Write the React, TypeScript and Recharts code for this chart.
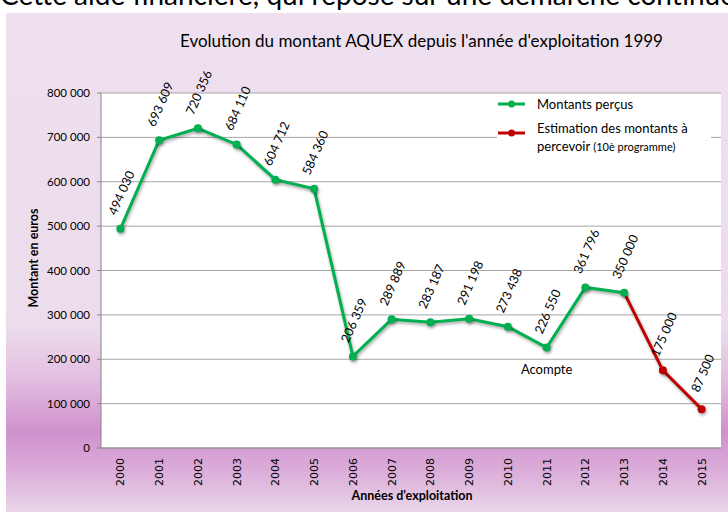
import React from "react";
import { LineChart, Line, XAxis, YAxis, CartesianGrid, Legend, ReferenceDot } from "recharts";

const years = ["2000", "2001", "2002", "2003", "2004", "2005", "2006", "2007", "2008", "2009", "2010", "2011", "2012", "2013", "2014", "2015"];
const received = [494030, 693609, 720356, 684110, 604712, 584360, 206359, 289889, 283187, 291198, 273438, 226550, 361796, 350000, null, null];
const estimated = [null, null, null, null, null, null, null, null, null, null, null, null, null, 350000, 175000, 87500];
const yTicks = [0, 100000, 200000, 300000, 400000, 500000, 600000, 700000, 800000];
const bandEdges = [0, 1, 2, 3, 4, 5, 6, 7, 8, 9, 10, 11, 12, 13, 14, 15, 16];

const GREEN = "#00b050";
const RED = "#c00000";
const AXIS = "#868686";
const FONT = "Lato, 'Open Sans', sans-serif";

const data = years.map((year, i) => ({ year, idx: i + 0.5, received: received[i], estimated: estimated[i] }));

const fmt = (v: number) => String(v).replace(/\B(?=(\d{3})+(?!\d))/g, " ");

// rotated value labels, skip the estimate label where the received series already has one
const makeLabel = (skip: (i: number) => boolean) => (p: any) => {
  const { x, y, value, index } = p;
  if (value == null || skip(index)) return null;
  const cx = x + 1;
  const cy = y - 36;
  return (
    <text
      key={index}
      x={cx}
      y={cy}
      transform={`rotate(-66 ${cx} ${cy})`}
      textAnchor="middle"
      dominantBaseline="central"
      fontSize={12.5}
      fontFamily={FONT}
      fill="#000"
    >
      {fmt(value)}
    </text>
  );
};

const YearTick = ({ x, y, payload }: any) => (
  <g transform={`translate(${x},${y + 2}) rotate(-90)`}>
    <text textAnchor="end" dy={4} fontSize={11} fontFamily="'DejaVu Sans', sans-serif" fill="#000">
      {payload.value}
    </text>
  </g>
);

const LegendBox = () => (
  <div style={{ position: "relative", width: 214, height: 62, background: "#fff", fontFamily: FONT, color: "#000" }}>
    <svg width={30} height={12} style={{ position: "absolute", left: 0, top: 3 }}>
      <line x1={1} y1={6} x2={28} y2={6} stroke={GREEN} strokeWidth={3} />
      <circle cx={14.5} cy={6} r={3.5} fill={GREEN} />
    </svg>
    <div style={{ position: "absolute", left: 40, top: 0, fontSize: 13, lineHeight: "18px", whiteSpace: "nowrap" }}>Montants perçus</div>
    <svg width={30} height={12} style={{ position: "absolute", left: 0, top: 32 }}>
      <line x1={1} y1={6} x2={28} y2={6} stroke={RED} strokeWidth={3} />
      <circle cx={14.5} cy={6} r={3.5} fill={RED} />
    </svg>
    <div style={{ position: "absolute", left: 40, top: 24, fontSize: 13, lineHeight: "18px", whiteSpace: "nowrap" }}>
      Estimation des montants à
      <br />
      percevoir <span style={{ fontSize: 11 }}>(10è programme)</span>
    </div>
  </div>
);

export default function App() {
  return (
    <div style={{ position: "absolute", left: 0, top: 0, width: 728, height: 512, overflow: "hidden", background: "#fff", fontFamily: FONT }}>
      <style>{`.recharts-line-curve, .recharts-line-dot, .red-dot { filter: drop-shadow(1.5px 2.5px 1.5px rgba(0,0,0,0.35)); }`}</style>
      <div style={{ position: "absolute", left: 0, top: -23, fontSize: 28, lineHeight: "34px", whiteSpace: "nowrap", color: "#000" }}>
        Cette aide financière, qui repose sur une démarche continue
      </div>
      <div
        style={{
          position: "absolute",
          left: 6,
          top: 13,
          width: 722,
          height: 499,
          background:
            "linear-gradient(to bottom, #eee0ef 0%, #ecdcec 63%, #e3bfe1 73%, #cf91cd 84%, #dcaeda 92%, #ead6ea 100%)",
        }}
      />
      <div style={{ position: "absolute", left: 0, top: 31, width: 843, textAlign: "center", fontSize: 17, lineHeight: "20px", color: "#000" }}>
        Evolution du montant AQUEX depuis l'année d'exploitation 1999
      </div>
      <div
        style={{
          position: "absolute",
          left: 34 - 80,
          top: 258 - 9,
          width: 160,
          height: 18,
          lineHeight: "18px",
          textAlign: "center",
          transform: "rotate(-90deg)",
          fontSize: 12.5,
          fontWeight: 700,
          color: "#000",
        }}
      >
        Montant en euros
      </div>
      <div style={{ position: "absolute", left: 412 - 100, top: 487, width: 200, textAlign: "center", fontSize: 12.5, fontWeight: 700, lineHeight: "18px", color: "#000" }}>
        Années d'exploitation
      </div>
      <div style={{ position: "absolute", left: 0, top: 0 }}>
        <LineChart width={728} height={512} data={data} margin={{ top: 93, right: 7, bottom: 24, left: 41 }}>
          <CartesianGrid vertical={false} stroke="#a6a6a6" fill="#fff" yAxisId="v" xAxisId="cat" />
          <XAxis
            xAxisId="edges"
            type="number"
            dataKey="idx"
            domain={[0, 16]}
            ticks={bandEdges}
            allowDataOverflow
            height={0}
            axisLine={false}
            tickSize={5}
            tickLine={{ stroke: AXIS }}
            tick={() => <g />}
          />
          <XAxis
            xAxisId="cat"
            dataKey="year"
            scale="band"
            height={40}
            tickLine={false}
            axisLine={{ stroke: AXIS }}
            tick={<YearTick />}
            interval={0}
          />
          <YAxis
            yAxisId="v"
            width={60}
            domain={[0, 800000]}
            ticks={yTicks}
            tickSize={4}
            tickMargin={7}
            axisLine={{ stroke: AXIS }}
            tickLine={{ stroke: AXIS }}
            tick={{ fill: "#000", fontSize: 11.5, fontFamily: FONT }}
            tickFormatter={fmt}
          />
          <Legend
            layout="vertical"
            align="center"
            verticalAlign="middle"
            content={<LegendBox />}
            wrapperStyle={{ left: 497, top: 95, width: 214, height: 62 }}
          />
          <Line
            xAxisId="cat"
            yAxisId="v"
            dataKey="estimated"
            stroke={RED}
            strokeWidth={3}
            dot={(p: any) =>
              received[p.index] != null ? <g key={p.index} /> : <circle key={p.index} className="red-dot" cx={p.cx} cy={p.cy} r={4} fill={RED} />
            }
            label={makeLabel((i) => received[i] != null)}
            isAnimationActive={false}
          />
          <Line
            xAxisId="cat"
            yAxisId="v"
            dataKey="received"
            stroke={GREEN}
            strokeWidth={3}
            dot={{ r: 4, fill: GREEN, stroke: GREEN, strokeWidth: 0 }}
            label={makeLabel(() => false)}
            isAnimationActive={false}
          />
          <ReferenceDot
            xAxisId="cat"
            yAxisId="v"
            x="2011"
            y={226550}
            r={0}
            fill="none"
            stroke="none"
            label={{ value: "Acompte", position: "bottom", offset: 17, fill: "#000", fontSize: 13, fontFamily: FONT }}
          />
        </LineChart>
      </div>
    </div>
  );
}
